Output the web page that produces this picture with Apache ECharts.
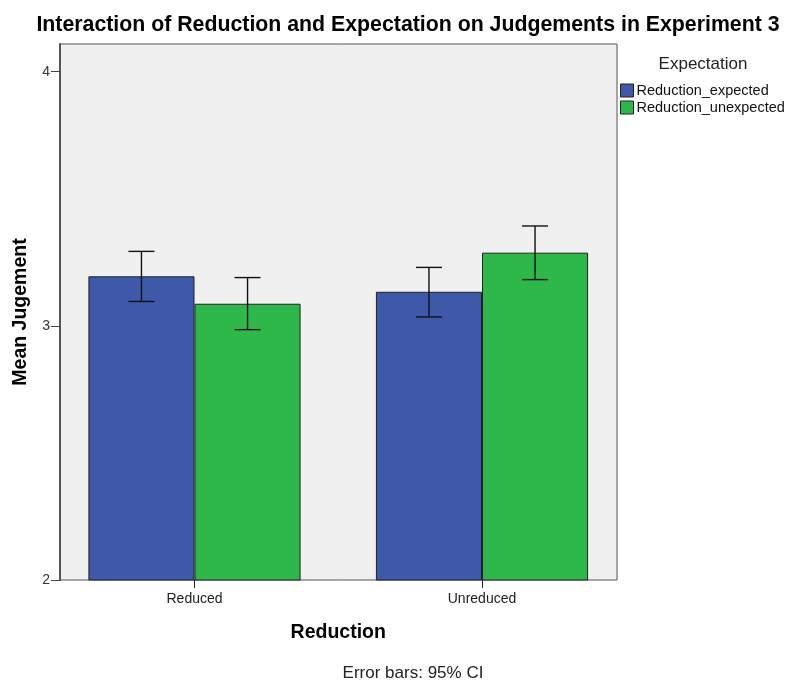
<!DOCTYPE html>
<html><head><meta charset="utf-8">
<script src="https://cdn.jsdelivr.net/npm/echarts@6/dist/echarts.min.js"></script>
<style>html,body{margin:0;padding:0;background:#fff}#c{width:790px;height:686px}</style>
</head><body><div id="c"></div>
<script>
const categories = ['Reduced', 'Unreduced'];
const seriesNames = ['Reduction_expected', 'Reduction_unexpected'];
const expectedMeans = [3.195, 3.134];
const unexpectedMeans = [3.087, 3.288];
const expectedLow = [3.096, 3.035];
const expectedHigh = [3.293, 3.230];
const unexpectedLow = [2.985, 3.182];
const unexpectedHigh = [3.190, 3.393];
const yTicks = [2, 3, 4];

const FONT = 'Arial, "Liberation Sans", sans-serif';
const BAR_FRAC = 0.369;
const colors = ['#3f58aa', '#2fb84a'];
const yMin = 2, yMax = 4.109;

const chart = echarts.init(document.getElementById('c'));

function errSeries(lows, highs, sign) {
  return {
    type: 'custom', xAxisIndex: 1, yAxisIndex: 1, z: 10,
    data: categories.map((c, i) => [i, lows[i], highs[i]]),
    renderItem: function (params, api) {
      const band = api.size([1, 0])[0];
      const off = sign * band * BAR_FRAC / 2;
      const lo = api.coord([api.value(0), api.value(1)]);
      const hi = api.coord([api.value(0), api.value(2)]);
      const x = lo[0] + off;
      const cap = 13;
      const st = { stroke: '#111', lineWidth: 1.4 };
      return { type: 'group', children: [
        { type: 'line', shape: { x1: x, y1: lo[1], x2: x, y2: hi[1] }, style: st },
        { type: 'line', shape: { x1: x - cap, y1: lo[1], x2: x + cap, y2: lo[1] }, style: st },
        { type: 'line', shape: { x1: x - cap, y1: hi[1], x2: x + cap, y2: hi[1] }, style: st }
      ]};
    }
  };
}

chart.setOption({
  animation: false,
  textStyle: { fontFamily: FONT },
  title: [
    { text: 'Interaction of Reduction and Expectation on Judgements in Experiment 3', left: 403, top: 10, textAlign: 'center',
      textStyle: { fontSize: 21.3, fontWeight: 'bold', color: '#000', fontFamily: FONT } },
    { text: 'Expectation', left: 698, top: 51, textAlign: 'center',
      textStyle: { fontSize: 17, fontWeight: 'normal', color: '#222', fontFamily: FONT } },
    { text: 'Error bars: 95% CI', left: 408, top: 660, textAlign: 'center',
      textStyle: { fontSize: 17, fontWeight: 'normal', color: '#222', fontFamily: FONT } }
  ],
  legend: {
    data: seriesNames, orient: 'vertical', left: 615, top: 78, itemWidth: 13, itemHeight: 13, itemGap: 2,
    icon: 'rect', textStyle: { fontSize: 14.5, color: '#111', padding: [0, 0, 0, -2], fontFamily: FONT },
    itemStyle: { borderColor: '#222', borderWidth: 1 }
  },
  grid: [
    { left: 60, top: 44, width: 557, height: 536, show: true, backgroundColor: '#f0f0f0', borderColor: '#555', borderWidth: 1, containLabel: false },
    { left: 50.75, top: 44, width: 575, height: 536, containLabel: false }
  ],
  xAxis: [
    { gridIndex: 0, type: 'value', show: false, min: 0, max: 1 },
    { gridIndex: 1, type: 'category', data: categories, boundaryGap: true,
      axisLine: { show: false },
      axisTick: { show: true, alignWithLabel: true, length: 8, lineStyle: { color: '#222' } },
      axisLabel: { fontSize: 14, color: '#222', margin: 12 },
      name: 'Reduction', nameLocation: 'middle', nameGap: 43,
      nameTextStyle: { fontSize: 19.5, fontWeight: 'bold', color: '#000' } }
  ],
  yAxis: [
    { gridIndex: 0, type: 'value', min: yMin, max: yMax, interval: 1,
      axisLine: { show: true, lineStyle: { color: '#555', width: 2 } },
      axisTick: { show: true, length: 9, inside: false, customValues: yTicks, lineStyle: { color: '#444' } },
      axisLabel: { fontSize: 14, color: '#333', margin: 10, customValues: yTicks },
      splitLine: { show: false },
      name: 'Mean Jugement', nameLocation: 'middle', nameGap: 29,
      nameTextStyle: { fontSize: 19.5, fontWeight: 'bold', color: '#000' } },
    { gridIndex: 1, type: 'value', min: yMin, max: yMax, show: false, splitLine: { show: false } }
  ],
  series: [
    { name: seriesNames[0], type: 'bar', xAxisIndex: 1, yAxisIndex: 1, data: expectedMeans,
      barWidth: (BAR_FRAC * 100) + '%', barGap: '0%',
      itemStyle: { color: colors[0], borderColor: '#222', borderWidth: 1 } },
    { name: seriesNames[1], type: 'bar', xAxisIndex: 1, yAxisIndex: 1, data: unexpectedMeans,
      barWidth: (BAR_FRAC * 100) + '%', barGap: '0%',
      itemStyle: { color: colors[1], borderColor: '#222', borderWidth: 1 } },
    errSeries(expectedLow, expectedHigh, -1),
    errSeries(unexpectedLow, unexpectedHigh, 1)
  ]
});
</script></body></html>
